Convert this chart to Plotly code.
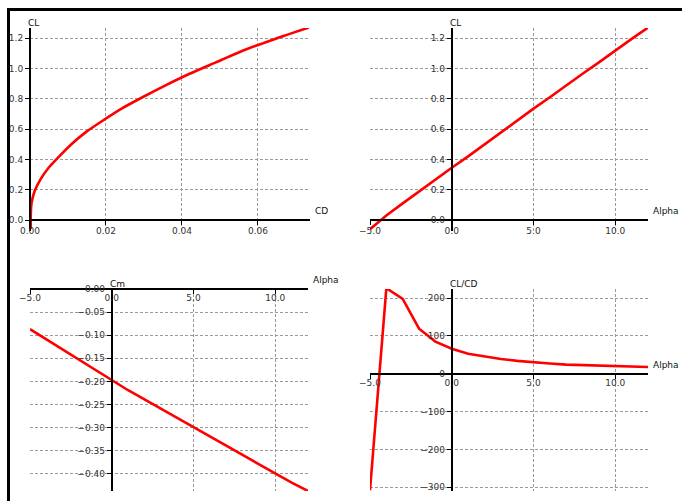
import plotly.graph_objects as go

# ---- data ----
alpha = [-5, -4, -3, -2, -1, 0, 1, 2, 3, 4, 5, 6, 7, 8, 9, 10, 11, 12]
CL = [-0.06, 0.03, 0.11, 0.19, 0.27, 0.345, 0.42, 0.50, 0.58, 0.655, 0.735,
      0.81, 0.89, 0.965, 1.04, 1.12, 1.195, 1.27]
CD = [0.0002, 0.0002, 0.0004, 0.0012, 0.0028, 0.0049, 0.0077, 0.0109, 0.0147,
      0.0191, 0.0241, 0.0296, 0.0358, 0.0420, 0.0489, 0.0563, 0.0645, 0.0734]
Cm = [-0.087, -0.109, -0.131, -0.153, -0.176, -0.198, -0.219, -0.239, -0.259,
      -0.279, -0.299, -0.319, -0.339, -0.359, -0.380, -0.400, -0.419, -0.437]
CL_CD = [-308, 226, 198, 119, 85, 66, 53, 45, 39, 34, 30, 27, 24, 22.5, 21,
         20.5, 19.5, 18]

W, H = 682, 501
FONT = "DejaVu Sans"
TICKC = "#333333"

panels = [
    dict(x=CD, y=CL, box=(30, 28, 310, 231.4), xr=[0, 0.0737], yr=[-0.075, 1.267],
         xfmt=".2f", xd=0.02, yfmt=".1f", yd=0.2, xt="CD", yt="CL", xso=-2,
         shape="spline"),
    dict(x=alpha, y=CL, box=(370, 28, 648, 231.4), xr=[-5, 12], yr=[-0.075, 1.267],
         xfmt=".1f", xd=5, yfmt=".1f", yd=0.2, xt="Alpha", yt="CL", xso=-2,
         shape="linear"),
    dict(x=alpha, y=Cm, box=(30, 289, 308, 491), xr=[-5, 12], yr=[-0.437, 0],
         xfmt=".1f", xd=5, yfmt=".2f", yd=0.05, xt="Alpha", yt="Cm", xso=-4,
         shape="linear"),
    dict(x=alpha, y=CL_CD, box=(370, 289, 648, 491), xr=[-5, 12], yr=[-310, 224],
         xfmt=".1f", xd=5, yfmt="d", yd=100, xt="Alpha", yt="CL/CD", xso=-4,
         shape="linear"),
]

fig = go.Figure()
layout = {}
annotations = []
for i, p in enumerate(panels, start=1):
    sfx = "" if i == 1 else str(i)
    xl, yt_, xr_, yb = p["box"]
    xdom = [xl / W, xr_ / W]
    ydom = [(H - yb) / H, (H - yt_) / H]
    # pixel location of the zero of each axis (axes cross at zero)
    x0frac = xdom[0] + (0 - p["xr"][0]) / (p["xr"][1] - p["xr"][0]) * (xdom[1] - xdom[0])
    y0frac = ydom[0] + (0 - p["yr"][0]) / (p["yr"][1] - p["yr"][0]) * (ydom[1] - ydom[0])

    line = dict(color="#ff0000", width=2.6, shape=p["shape"])
    if p["shape"] == "spline":
        line["smoothing"] = 0.6
    fig.add_trace(go.Scatter(x=p["x"], y=p["y"], mode="lines", line=line,
                             xaxis="x" + sfx, yaxis="y" + sfx, showlegend=False,
                             hoverinfo="skip"))
    common = dict(showline=True, linecolor="black", linewidth=2, ticks="outside",
                  ticklen=4, tickwidth=1, tickcolor="black", showgrid=True,
                  gridcolor="#9a9a9a", griddash="3px,2px", gridwidth=1,
                  zeroline=False, tickfont=dict(family=FONT, size=9, color=TICKC),
                  anchor="free", fixedrange=True, automargin=False)
    layout["xaxis" + sfx] = dict(common, domain=xdom, range=p["xr"], dtick=p["xd"],
                                 tick0=0, tickformat=p["xfmt"], position=y0frac,
                                 ticklabelstandoff=p["xso"])
    layout["yaxis" + sfx] = dict(common, domain=ydom, range=p["yr"], dtick=p["yd"],
                                 tick0=0, tickformat=p["yfmt"], position=x0frac)
    annotations.append(dict(text=p["yt"], xref="x" + sfx, yref="y" + sfx, x=0,
                            y=p["yr"][1], xanchor="left", yanchor="middle",
                            xshift=-4, yshift=5, showarrow=False,
                            font=dict(family=FONT, size=9, color="#111")))
    annotations.append(dict(text=p["xt"], xref="x" + sfx, yref="y" + sfx,
                            x=p["xr"][1], y=0, xanchor="left", yanchor="middle",
                            xshift=3, yshift=9, showarrow=False,
                            font=dict(family=FONT, size=9, color="#111")))

shapes = [
    dict(type="rect", xref="paper", yref="paper", x0=7 / W, x1=10 / W,
         y0=0, y1=(H - 8) / H, fillcolor="black", line=dict(width=0)),
    dict(type="rect", xref="paper", yref="paper", x0=7 / W, x1=1,
         y0=(H - 11) / H, y1=(H - 8) / H, fillcolor="black", line=dict(width=0)),
]

fig.update_layout(**layout)
fig.update_layout(width=W, height=H, margin=dict(l=0, r=0, t=0, b=0, autoexpand=False),
                  paper_bgcolor="white", plot_bgcolor="white",
                  annotations=annotations, shapes=shapes,
                  font=dict(family=FONT, size=9, color=TICKC))

fig.write_html("out.html", config={"displayModeBar": False},
               post_script="document.body.style.margin='0px';")
